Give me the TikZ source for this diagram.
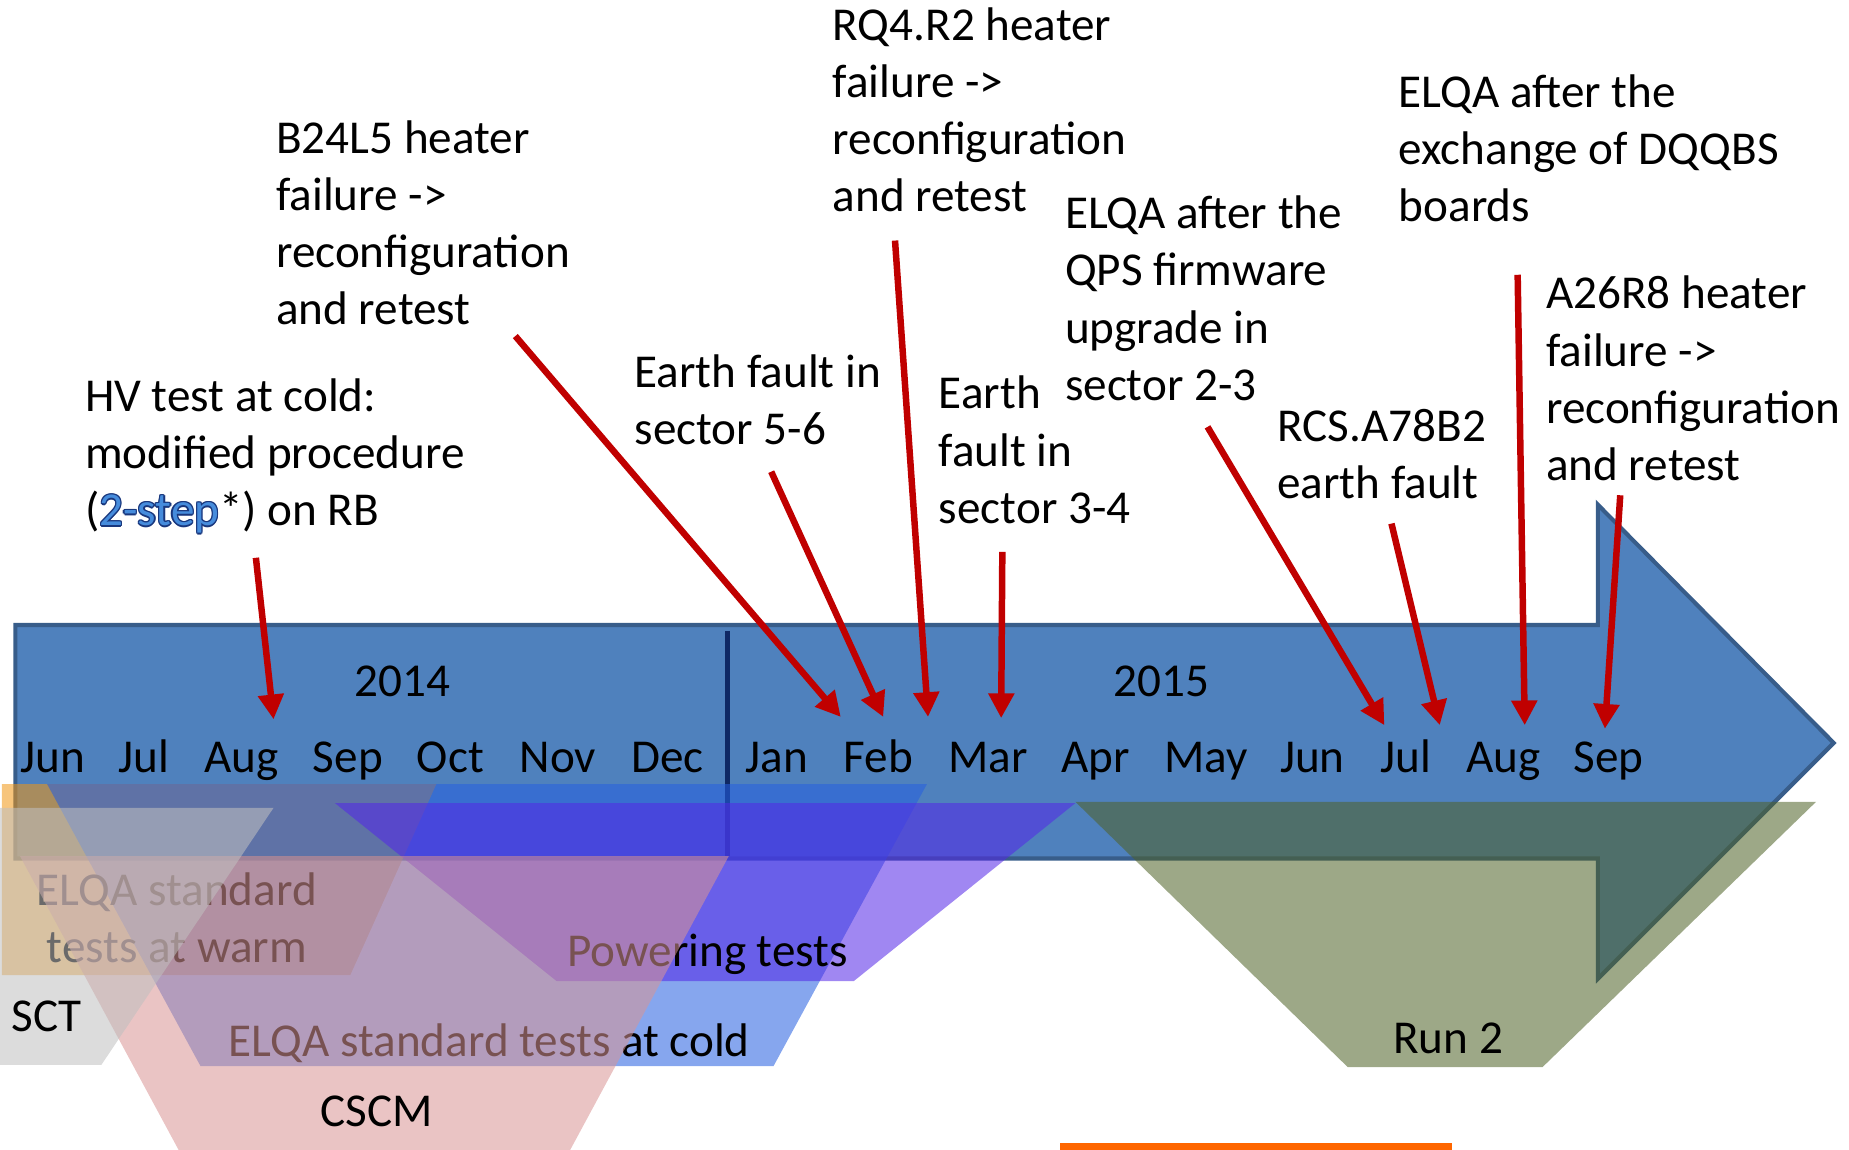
\documentclass[tikz,border=0pt]{standalone}
\usepackage{fontspec}
\setmainfont{Carlito}
\usetikzlibrary{arrows.meta}
\definecolor{arrowblue}{RGB}{79,129,189}
\definecolor{arrowedge}{RGB}{56,93,138}
\definecolor{dividerc}{RGB}{15,40,100}
\definecolor{evred}{RGB}{192,0,0}
\definecolor{coldc}{RGB}{38,95,224}
\definecolor{powc}{RGB}{84,40,231}
\definecolor{warmc}{RGB}{240,150,20}
\definecolor{sctc}{RGB}{192,192,192}
\definecolor{cscmc}{RGB}{217,149,149}
\definecolor{runc}{RGB}{79,98,40}
\definecolor{barorange}{RGB}{255,102,0}
\definecolor{stepfill}{RGB}{70,140,220}
\definecolor{stepline}{RGB}{25,55,125}
\newcommand{\bigfont}{\fontsize{40pt}{48.5pt}\selectfont}
\newcommand{\lefttab}[1]{\begin{tabular}[t]{@{}l@{}}#1\end{tabular}}
\newcommand{\centtab}[1]{\begin{tabular}[t]{@{}c@{}}#1\end{tabular}}
\newcommand{\stepword}[1]{\leavevmode
 \rlap{\kern-1.2pt\textcolor{stepline}{#1}}%
 \rlap{\kern1.2pt\textcolor{stepline}{#1}}%
 \rlap{\raisebox{1.2pt}{\textcolor{stepline}{#1}}}%
 \rlap{\raisebox{-1.2pt}{\textcolor{stepline}{#1}}}%
 \rlap{\kern-0.85pt\raisebox{0.85pt}{\textcolor{stepline}{#1}}}%
 \rlap{\kern0.85pt\raisebox{0.85pt}{\textcolor{stepline}{#1}}}%
 \rlap{\kern-0.85pt\raisebox{-0.85pt}{\textcolor{stepline}{#1}}}%
 \rlap{\kern0.85pt\raisebox{-0.85pt}{\textcolor{stepline}{#1}}}%
 \textcolor{stepfill}{#1}}
\tikzset{
 bigarrow/.style={fill=arrowblue, draw=arrowedge, line width=3.5pt, line join=miter},
 phase/.style={fill opacity=0.557, draw=none},
 lbl/.style={anchor=base, inner sep=0pt, font=\bigfont, text=black},
 evtext/.style={anchor=base west, inner sep=0pt, font=\bigfont, text=black},
 evarrow/.style={draw=evred, line width=5.5pt, -{Triangle[length=21pt,width=21pt]}},
}
\begin{document}
\begin{tikzpicture}[x=1pt,y=-1pt]
\useasboundingbox (0,0) rectangle (1568,975);
\clip (0,0) rectangle (1568,975);
% timeline arrow
\draw[bigarrow] (13,530) -- (1355,530) -- (1355,428) -- (1555,630) -- (1355,830) -- (1355,728) -- (13,728) -- cycle;
\coordinate (divtop) at (617,535);
\coordinate (divbot) at (617,726);
\draw[dividerc, line width=4pt] (divtop) -- (divbot);
\node[lbl] (y2014) at (341.5,591) {2014};
\node[lbl] (y2015) at (985,591) {2015};
\foreach \m/\x [count=\i] in {Jun/45,Jul/122,Aug/205,Sep/295,Oct/382,Nov/473,Dec/566,Jan/659,Feb/745,Mar/838,Apr/929,May/1023,Jun/1113,Jul/1192,Aug/1275,Sep/1364}
  \node[lbl] (m\i) at (\x,655.5) {\m};
% phases
\fill[phase, warmc] (1.5,665) -- (370,665) -- (297,827) -- (1.5,827) -- cycle;
\fill[phase, coldc] (40,665) -- (786,665) -- (656,904) -- (170,904) -- cycle;
\node[lbl] (cold) at (415,896) {ELQA standard tests at cold};
\fill[phase, powc] (284,681) -- (912,681) -- (724,832) -- (472,832) -- cycle;
\node[lbl] (pow) at (600,820) {Powering tests};
\node[lbl] (warm) at (150,767.5) {\centtab{ELQA standard\\tests at warm}};
\fill[phase, cscmc] (17,726) -- (618,726) -- (482,978) -- (153,978) -- cycle;
\node[lbl] (cscm) at (319.5,955.5) {CSCM};
\fill[phase, sctc] (0,685) -- (232,685) -- (86,903) -- (0,903) -- cycle;
\node[lbl] (sct) at (39.5,875) {SCT};
\fill[phase, runc] (912,680) -- (1540,680) -- (1308,905) -- (1143,905) -- cycle;
\node[lbl] (run) at (1228,893) {Run 2};
\fill[barorange] (899,969) rectangle (1231,980);
% events
\node[evtext] (tHV) at (72,349) {\lefttab{HV test at cold:\\modified procedure\\(\stepword{2-step}*) on RB}};
\node[evtext] (tB24) at (234,130) {\lefttab{B24L5 heater\\failure ->\\reconfiguration\\and retest}};
\node[evtext] (tE56) at (538,328.6) {\lefttab{Earth fault in\\sector 5-6}};
\node[evtext] (tRQ4) at (706,34) {\lefttab{RQ4.R2 heater\\failure ->\\reconfiguration\\and retest}};
\node[evtext] (tE34) at (796,346.8) {\lefttab{Earth\\fault in\\sector 3-4}};
\node[evtext] (tQPS) at (903,194) {\lefttab{ELQA after the\\QPS firmware\\upgrade in\\sector 2-3}};
\node[evtext] (tRCS) at (1083,374) {\lefttab{RCS.A78B2\\earth fault}};
\node[evtext] (tDQ) at (1186,91) {\lefttab{ELQA after the\\exchange of DQQBS\\boards}};
\node[evtext] (tA26) at (1311,262) {\lefttab{A26R8 heater\\failure ->\\reconfiguration\\and retest}};
\coordinate (s1) at (217,473);  \coordinate (e1) at (232,610);
\coordinate (s2) at (437,285);  \coordinate (e2) at (713,608);
\coordinate (s3) at (654,400);  \coordinate (e3) at (749,608);
\coordinate (s4) at (759,204);  \coordinate (e4) at (787,608);
\coordinate (s5) at (850,468);  \coordinate (e5) at (849,609);
\coordinate (s6) at (1024,362); \coordinate (e6) at (1174,615);
\coordinate (s7) at (1180,444); \coordinate (e7) at (1221,615);
\coordinate (s8) at (1287,233); \coordinate (e8) at (1293,615);
\coordinate (s9) at (1374,420); \coordinate (e9) at (1361,618);
\foreach \i in {1,...,9} \draw[evarrow] (s\i) -- (e\i);
\end{tikzpicture}
\end{document}
